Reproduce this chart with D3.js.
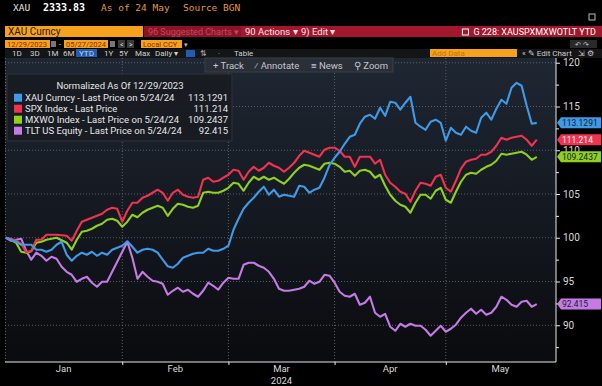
<!DOCTYPE html>
<html><head><meta charset="utf-8">
<script src="https://cdn.jsdelivr.net/npm/d3@7"></script>
<style>
body{margin:0;background:#000;}
svg{display:block;font-family:"Liberation Sans Narrow","Roboto",sans-serif;}
</style></head><body>
<script>
// values normalized to 100 on 12/29/2023, one per weekday up to 5/24/24
var xau = [100.0,99.77,99.54,99.2,99.2,99.2,98.63,98.63,98.4,98.63,99.2,99.54,98.06,97.37,97.94,98.29,98.06,98.4,97.94,98.29,98.06,98.63,98.86,99.09,99.6,98.97,98.29,98.63,98.74,98.63,98.29,97.49,96.74,96.57,97.03,97.71,97.94,98.17,98.29,98.29,98.74,98.51,98.51,98.74,99.09,100.91,102.17,103.31,104.0,104.57,105.26,105.83,104.91,105.49,104.69,104.91,104.8,104.69,105.94,105.83,105.14,105.49,105.71,106.86,108.34,109.14,109.83,110.74,111.54,111.77,113.03,113.83,114.06,113.6,114.86,113.94,115.54,115.43,114.63,115.43,116.11,113.14,112.69,112.34,113.26,113.49,113.14,111.09,112.57,112.0,111.77,112.69,112.23,112.0,113.71,114.29,113.49,114.74,115.77,115.31,117.14,117.71,117.37,115.09,113.03,113.13];
var spx = [100.0,99.89,99.66,99.31,98.34,98.51,99.77,99.77,100.34,100.34,100.34,100.29,100.23,99.66,100.8,101.83,102.06,102.29,102.51,102.74,103.2,103.43,103.31,101.83,103.09,104.0,104.0,104.57,104.8,105.14,105.49,105.14,104.23,105.14,105.49,104.91,104.69,104.57,104.69,106.63,106.86,106.4,106.51,106.86,107.2,107.77,107.66,106.63,107.54,108.11,107.66,108.0,108.57,108.23,108.0,107.54,108.0,108.57,109.37,109.94,109.71,109.49,109.26,110.06,110.29,110.29,109.94,109.26,109.26,108.11,109.26,109.26,109.26,108.46,108.91,107.2,106.29,105.83,105.26,105.03,104.11,105.37,106.29,106.17,105.94,106.97,107.2,105.71,105.26,106.51,107.89,108.69,108.91,109.03,109.49,109.49,109.83,110.51,111.43,111.2,111.43,111.54,111.66,111.2,110.51,111.214];
var mxwo = [100.0,99.77,99.43,98.4,98.29,98.46,99.43,99.54,99.77,99.89,100.0,99.71,99.43,98.63,99.77,100.69,100.8,101.03,101.37,101.6,102.06,102.17,101.94,101.26,101.83,102.63,102.34,102.86,103.2,103.43,103.66,103.43,102.51,103.31,103.89,103.77,103.54,103.43,103.66,105.14,105.26,105.14,105.14,105.37,105.71,106.29,106.17,105.37,106.29,106.97,106.63,106.97,106.63,106.86,106.51,106.17,106.74,107.43,108.0,108.34,108.23,108.0,107.77,108.46,108.57,108.46,108.11,107.54,107.66,107.09,107.66,107.77,107.54,106.86,107.2,105.94,104.91,104.23,103.77,103.54,102.86,104.0,104.91,104.91,104.46,105.37,105.71,104.34,104.0,105.26,106.4,107.2,107.43,107.31,107.77,108.11,108.34,108.8,109.6,109.49,109.6,109.71,109.83,109.49,108.91,109.2437];
var tlt = [100.0,99.66,99.77,99.89,98.51,97.49,98.29,97.94,97.37,97.83,97.6,96.69,96.11,95.77,94.97,95.31,95.54,94.86,94.4,94.97,94.97,96.11,97.26,98.4,99.54,97.71,95.31,96.11,95.54,95.09,94.97,94.74,93.49,93.94,94.29,93.83,94.06,93.6,93.26,93.94,94.86,94.51,94.06,94.86,95.43,95.31,95.31,96.91,97.14,97.14,96.8,96.57,96.11,95.31,94.17,93.94,93.94,94.06,94.17,94.4,95.09,94.74,94.97,95.77,95.66,94.86,93.83,93.37,93.26,93.6,92.34,92.57,93.26,91.43,90.97,91.31,89.83,89.37,90.17,89.83,90.17,89.94,89.94,89.49,88.8,89.37,89.94,89.26,89.6,90.06,90.86,91.43,91.89,91.31,91.77,91.2,91.43,92.11,93.26,92.91,92.34,92.11,92.69,92.8,92.11,92.415];

var seriesColors = ["#3f9ae8","#f2334f","#8fd11c","#c57be6"];
var legendLabels = ["XAU Curncy - Last Price on 5/24/24","SPX Index - Last Price","MXWO Index - Last Price on 5/24/24","TLT US Equity - Last Price on 5/24/24"];
var lastLabels = ["113.1291","111.214","109.2437","92.415"];
var monthNames = ["Jan","Feb","Mar","Apr","May"];
var monthEnds = [23,44,65,87];   // index of last weekday in Jan..Apr
var yMajor = [90,95,100,105,110,115,120];
var yMinor = [87.5,92.5,97.5,102.5,107.5,112.5,117.5];

var width = 602, height = 386;
var svg = d3.select("body").append("svg").attr("width",width).attr("height",height);
var mono = "'DejaVu Sans Mono',monospace";

// ---- top header
svg.append("text").attr("x",13).attr("y",11).attr("fill","#e4e4e4").style("font-family",mono).style("font-size","9.5px").text("XAU");
svg.append("text").attr("x",43).attr("y",11).attr("fill","#fff").style("font-family",mono).style("font-size","10px").style("font-weight","bold").text("2333.83");
svg.append("text").attr("x",101).attr("y",11).attr("fill","#e39a35").style("font-family",mono).style("font-size","9.5px").text("As of 24 May");
svg.append("text").attr("x",183).attr("y",11).attr("fill","#e39a35").style("font-family",mono).style("font-size","9.5px").text("Source BGN");
svg.append("rect").attr("x",589).attr("y",14).attr("width",6).attr("height",6).attr("fill","none").attr("stroke","#bbb");

// ---- red / orange bar
svg.append("rect").attr("x",144).attr("y",26).attr("width",458).attr("height",11).attr("fill","#a3172e");
svg.append("rect").attr("x",144).attr("y",26).attr("width",97).attr("height",11).attr("fill","#8c1327");
svg.append("rect").attr("x",5).attr("y",26).attr("width",138).attr("height",11).attr("fill","#f6a21d");
svg.append("text").attr("x",8).attr("y",35).attr("fill","#1a1a1a").style("font-size","10px").text("XAU Curncy");
svg.append("text").attr("x",148).attr("y",35).attr("fill","#c24a5b").style("font-size","9px").text("96 Suggested Charts ▾");
svg.append("text").attr("x",245).attr("y",35).attr("fill","#f2e6e8").style("font-size","9.5px").text("90 Actions ▾");
svg.append("text").attr("x",301).attr("y",35).attr("fill","#f2e6e8").style("font-size","9.5px").text("9) Edit ▾");
var gt = svg.append("text").attr("x",596).attr("y",35).attr("text-anchor","end").attr("fill","#fff")
  .style("font-size","9px").text("G 228: XAUSPXMXWOTLT YTD");
var gw = gt.node().getComputedTextLength();
svg.append("rect").attr("x",596-gw-11).attr("y",29).attr("width",6).attr("height",6).attr("fill","none").attr("stroke","#fff");

// ---- date row
[[5,45,"12/29/2023"],[64,44,"05/27/2024"],[141,41,"Local CCY"]].forEach(function(b){
  svg.append("rect").attr("x",b[0]).attr("y",40).attr("width",b[1]).attr("height",8).attr("fill","#f6a21d");
  svg.append("text").attr("x",b[0]+2).attr("y",47).attr("fill","#8a2a00").style("font-size","7.5px").text(b[2]);
});
[51,110].forEach(function(x){ svg.append("rect").attr("x",x).attr("y",41).attr("width",5).attr("height",6).attr("fill","#777"); });
svg.append("text").attr("x",59).attr("y",47).attr("fill","#ccc").style("font-size","8px").text("-");
[118,127].forEach(function(x,i){
  svg.append("rect").attr("x",x).attr("y",40).attr("width",7).attr("height",8).attr("fill","#3a3a3a");
  svg.append("text").attr("x",x+2).attr("y",47).attr("fill","#ddd").style("font-size","7px").text(i?">":"<");
});
svg.append("text").attr("x",184).attr("y",47).attr("fill","#bbb").style("font-size","7px").text("▾");
svg.append("rect").attr("x",570).attr("y",40).attr("width",27).attr("height",8).attr("fill","#2a2a2a");
svg.append("text").attr("x",575).attr("y",47).attr("fill","#ccc").style("font-size","7px").text("↶  ↷");

// ---- range row
svg.append("rect").attr("x",5).attr("y",49).attr("width",597).attr("height",9).attr("fill","#141517");
svg.append("rect").attr("x",76).attr("y",49).attr("width",21).attr("height",8).attr("fill","#1d5fb8");
[["1D",12],["3D",30],["1M",47],["6M",63],["YTD",79],["1Y",104],["5Y",119],["Max",135],["Daily ▾",155],["Table",234]].forEach(function(t){
  svg.append("text").attr("x",t[1]).attr("y",56).attr("fill","#d0d0d0").style("font-size","8px").text(t[0]);
});
svg.append("rect").attr("x",186).attr("y",50).attr("width",9).attr("height",7).attr("fill","#1d5fb8");
svg.append("text").attr("x",200).attr("y",56).attr("fill","#aaa").style("font-size","8px").text("⇅");
svg.append("text").attr("x",218).attr("y",56).attr("fill","#aaa").style("font-size","8px").text("·");
svg.append("rect").attr("x",430).attr("y",49).attr("width",87).attr("height",8).attr("fill","#f6a21d");
svg.append("text").attr("x",432).attr("y",56).attr("fill","#c9720a").style("font-size","8px").text("Add Data");
svg.append("text").attr("x",522).attr("y",56).attr("fill","#ccc").style("font-size","8px").text("«  ✎ Edit Chart");
svg.append("text").attr("x",578).attr("y",56).attr("fill","#ccc").style("font-size","8px").text("⇲  ⚙");

// ---- scales
var x = d3.scaleLinear().domain([0,108.6]).range([6,555]);
var y = d3.scaleLinear().domain([85.8,120.6]).range([362,57.5]);

var defs = svg.append("defs");
var grad = defs.append("linearGradient").attr("id","bg").attr("x1",0).attr("y1",0).attr("x2",0).attr("y2",1);
grad.append("stop").attr("offset","0%").attr("stop-color","#1f2733");
grad.append("stop").attr("offset","100%").attr("stop-color","#0a0b0e");
svg.append("rect").attr("x",5).attr("y",58).attr("width",551).attr("height",304).attr("fill","url(#bg)");

// gridlines
svg.append("g").selectAll("line").data(yMajor).enter().append("line")
  .attr("x1",5).attr("x2",556).attr("y1",function(d){return y(d);}).attr("y2",function(d){return y(d);})
  .attr("stroke","#5b6068").attr("stroke-dasharray","1,2");
svg.append("g").selectAll("line").data(monthEnds).enter().append("line")
  .attr("x1",function(d){return x(d);}).attr("x2",function(d){return x(d);}).attr("y1",58).attr("y2",362)
  .attr("stroke","#5b6068").attr("stroke-dasharray","1,2");
svg.append("line").attr("x1",5.5).attr("x2",5.5).attr("y1",58).attr("y2",362).attr("stroke","#5b6068").attr("stroke-dasharray","1,2");

// lines
var line = d3.line().x(function(d,i){return x(i);}).y(function(d){return y(d);});
[tlt,mxwo,spx,xau].forEach(function(s,k){
  svg.append("path").attr("d",line(s)).attr("fill","none")
    .attr("stroke",seriesColors[3-k]).attr("stroke-width",2.1).attr("stroke-linejoin","round");
});

// y axis
var yAxis = d3.axisRight(y).tickValues(yMajor).tickSize(4).tickPadding(3);
var ga = svg.append("g").attr("transform","translate(556,0)").call(yAxis);
ga.select(".domain").attr("stroke","#e8e8e8").attr("d","M0,58V362");
ga.selectAll(".tick line").attr("stroke","#e8e8e8");
ga.selectAll("text").attr("fill","#d8d8d8").style("font-size","10px").style("font-family","'Liberation Sans Narrow',Roboto,sans-serif");
var gm = svg.append("g").attr("transform","translate(556,0)").call(d3.axisRight(y).tickValues(yMinor).tickSize(3).tickFormat(""));
gm.select(".domain").remove();
gm.selectAll(".tick line").attr("stroke","#e8e8e8");

// x axis
var gx = svg.append("g").attr("transform","translate(0,362)")
  .call(d3.axisBottom(x).tickValues(monthEnds).tickSize(3).tickFormat(""));
gx.select(".domain").attr("stroke","#e8e8e8").attr("d","M5,0H556");
gx.selectAll(".tick line").attr("stroke","#e8e8e8");
var bounds = [-0.2].concat(monthEnds).concat([108.6]);
monthNames.forEach(function(m,i){
  svg.append("text").attr("x",(x(bounds[i])+x(bounds[i+1]))/2).attr("y",372)
    .attr("text-anchor","middle").attr("fill","#d8d8d8").style("font-size","9.5px").text(m);
});
svg.append("text").attr("x",x(54.5)).attr("y",384).attr("text-anchor","middle").attr("fill","#d8d8d8").style("font-size","9.5px").text("2024");

// last value tags
[xau,spx,mxwo,tlt].forEach(function(s,k){
  var cy = y(s[s.length-1]);
  svg.append("path").attr("d","M557,"+cy+"L561,"+(cy-5.5)+"H601V"+(cy+5.5)+"H561Z").attr("fill",seriesColors[k]);
  svg.append("text").attr("x",562).attr("y",cy+3.3).attr("fill",k==1?"#fff":"#14202e")
    .style("font-size","8.5px").text(lastLabels[k]);
});

// toolbar overlay
svg.append("rect").attr("x",205).attr("y",58).attr("width",188).attr("height",14).attr("fill","#2a2f37").attr("stroke","#3b4049");
[["+ Track",213],["⁄ Annotate",254],["≡ News",311],["⚲ Zoom",354]].forEach(function(t){
  svg.append("text").attr("x",t[1]).attr("y",68.5).attr("fill","#c4c7cc").style("font-size","9.5px").text(t[0]);
});

// legend
var lg = svg.append("g");
lg.append("rect").attr("x",7).attr("y",74).attr("width",225).attr("height",67).attr("fill","#181c22").attr("fill-opacity",0.92).attr("stroke","#2e333b");
lg.append("text").attr("x",120).attr("y",89).attr("text-anchor","middle").attr("fill","#e6e6e6").style("font-size","9.5px").text("Normalized As Of 12/29/2023");
legendLabels.forEach(function(l,k){
  var yy = 97.7 + k*11;
  lg.append("rect").attr("x",14).attr("y",yy-4).attr("width",8).attr("height",8).attr("fill",seriesColors[k]);
  lg.append("text").attr("x",25).attr("y",yy+3.5).attr("fill","#e6e6e6").style("font-size","9.5px").text(l);
  lg.append("text").attr("x",228).attr("y",yy+3.5).attr("text-anchor","end").attr("fill","#e6e6e6").style("font-size","9.5px").text(lastLabels[k]);
});
</script>
</body></html>
